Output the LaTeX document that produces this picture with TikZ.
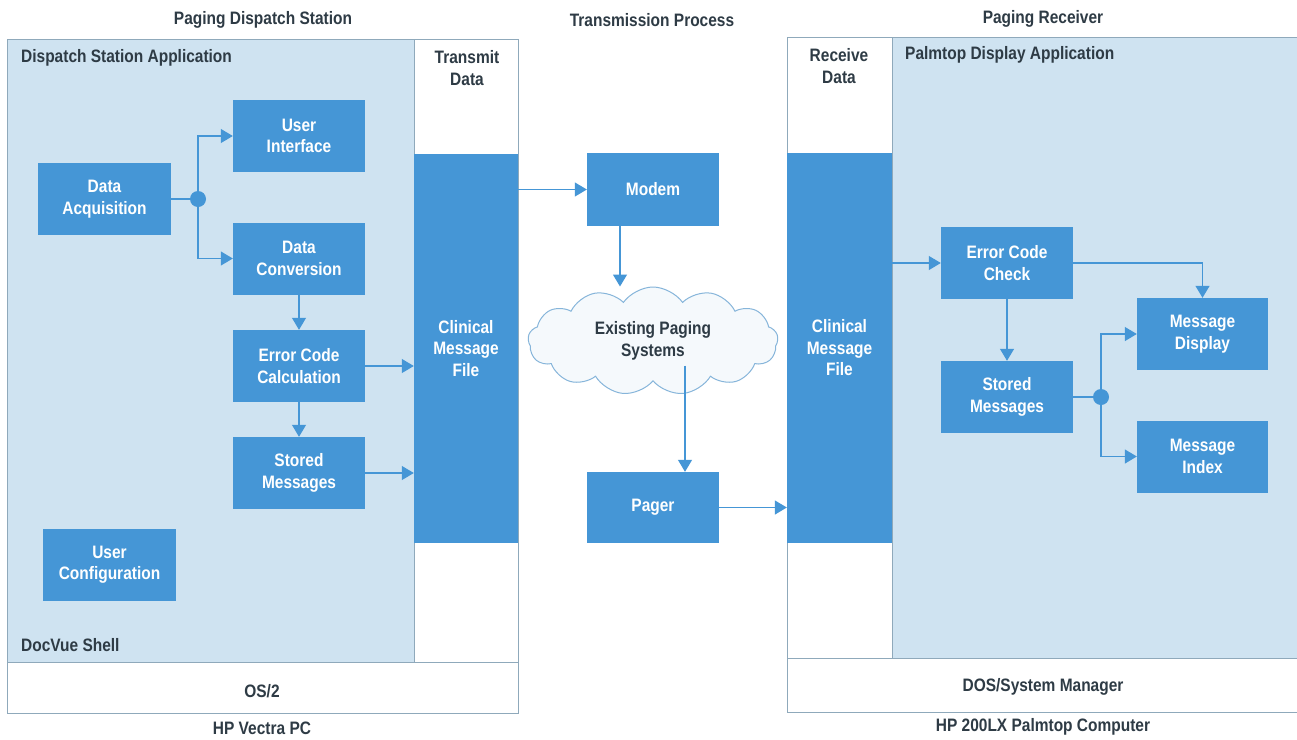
\documentclass[tikz,border=0pt]{standalone}
\usepackage{fontspec}
\setmainfont{Liberation Sans}[FakeStretch=0.86]
\usetikzlibrary{arrows.meta,shapes.symbols}
\definecolor{panel}{HTML}{CFE3F1}
\definecolor{boxblue}{HTML}{4596D6}
\definecolor{edge}{HTML}{8FA9BB}
\definecolor{ink}{HTML}{2E3B45}
\definecolor{cloudline}{HTML}{86B5DA}
\definecolor{cloudfill}{HTML}{F5F9FC}
\tikzset{
  every node/.style={font=\fontsize{18}{21.5}\selectfont\bfseries},
  blk/.style={fill=boxblue, text=white, align=center, inner sep=0pt,
    minimum width=132pt, minimum height=72pt},
  col/.style={fill=boxblue, text=white, align=center, inner sep=0pt},
  lbl/.style={text=ink, align=center, inner sep=0pt},
  conn/.style={draw=boxblue, line width=1.2pt},
  arr/.style={conn, -{Triangle[length=12pt,width=14pt]}},
  dot/.style={circle, fill=boxblue, inner sep=0pt, minimum size=16pt},
  frame/.style={draw=edge, line width=1pt}
}
\begin{document}
\begin{tikzpicture}[x=1pt,y=-1pt]
\useasboundingbox (0,0) rectangle (1297,739);
\fill[white] (0,0) rectangle (1297,739);
% ---- left station panels
\fill[panel] (7,39) rectangle (414,662);
\draw[frame] (7,39) rectangle (518,713);
\draw[frame] (414,39) -- (414,662);
\draw[frame] (7,662) -- (518,662);
% ---- right receiver panels
\fill[panel] (892,37) rectangle (1297,658);
\draw[frame] (1297,37) -- (787,37) -- (787,712) -- (1297,712);
\draw[frame] (892,37) -- (892,658);
\draw[frame] (787,658) -- (1297,658);
% ---- headers
\node[lbl] (h1) at (263,20) {Paging Dispatch Station};
\node[lbl] (h2) at (652,20) {Transmission Process};
\node[lbl] (h3) at (1043,19) {Paging Receiver};
\node[lbl, anchor=west] (dsa) at (21,58) {Dispatch Station Application};
\node[lbl] (tdata) at (467,68) {Transmit\\Data};
\node[lbl] (rdata) at (839,66) {Receive\\Data};
\node[lbl, anchor=west] (pda) at (905,55) {Palmtop Display Application};
\node[lbl, anchor=west] (dvs) at (21,645) {DocVue Shell};
\node[lbl] (os2) at (262,691) {OS/2};
\node[lbl] (hpv) at (262,728) {HP Vectra PC};
\node[lbl] (dos) at (1043,687) {DOS/System Manager};
\node[lbl] (hp200) at (1043,727) {HP 200LX Palmtop Computer};
% ---- columns
\node[col, minimum width=104pt, minimum height=389pt] (cmf) at (466,348.5) {Clinical\\Message\\File};
\node[col, minimum width=105pt, minimum height=390pt] (cmf2) at (839.5,348) {Clinical\\Message\\File};
% ---- left blocks
\node[blk] (ui) at (299,136) {User\\Interface};
\node[blk, minimum width=133pt] (da) at (104.5,199) {Data\\Acquisition};
\node[blk] (dc) at (299,258.5) {Data\\Conversion};
\node[blk] (ecc) at (299,366) {Error Code\\Calculation};
\node[blk] (sm) at (299,473) {Stored\\Messages};
\node[blk, minimum width=133pt] (uc) at (109.5,564.5) {User\\Configuration};
\node[dot] (j1) at (198,199) {};
% ---- transmission
\node[blk, minimum height=73pt] (modem) at (653,189.5) {Modem};
\node[cloud, cloud puffs=13, cloud puff arc=110, cloud ignores aspect,
      draw=cloudline, fill=cloudfill, line width=1pt, text=ink, align=center,
      minimum width=250pt, minimum height=108pt, inner sep=0pt] (cloud) at (653,341) {Existing Paging\\Systems};
\node[blk, minimum height=71pt] (pager) at (653,507.5) {Pager};
% ---- right blocks
\node[blk] (ecc2) at (1007,263) {Error Code\\Check};
\node[blk] (sm2) at (1007,397) {Stored\\Messages};
\node[blk, minimum width=131pt] (md) at (1202.5,334) {Message\\Display};
\node[blk, minimum width=131pt] (mi) at (1202.5,456.5) {Message\\Index};
\node[dot] (j2) at (1101,397) {};
% ---- connectors left
\draw[conn] (da.east) -- (j1);
\draw[arr] (j1.center) |- (ui.west);
\draw[arr] (j1.center) |- (dc.west);
\draw[arr] (dc.south) -- (ecc.north);
\draw[arr] (ecc.south) -- (sm.north);
\draw[arr] (ecc.east) -- (ecc.east -| cmf.west);
\draw[arr] (sm.east) -- (sm.east -| cmf.west);
% ---- connectors transmission
\draw[arr] (cmf.east |- modem.west) -- (modem.west);
\draw[arr] ([xshift=-33pt]modem.south) -- ([xshift=-33pt]modem.south |- cloud.north);
\draw[arr] ([xshift=32pt,yshift=16pt]pager.north |- cloud.south) -- ([xshift=32pt]pager.north);
\draw[arr] (pager.east) -- (pager.east -| cmf2.west);
% ---- connectors right
\draw[arr] (cmf2.east |- ecc2.west) -- (ecc2.west);
\draw[arr] (ecc2.east) -| (md.north);
\draw[arr] (ecc2.south) -- (sm2.north);
\draw[conn] (sm2.east) -- (j2);
\draw[arr] (j2.center) |- (md.west);
\draw[arr] (j2.center) |- (mi.west);
\end{tikzpicture}
\end{document}
